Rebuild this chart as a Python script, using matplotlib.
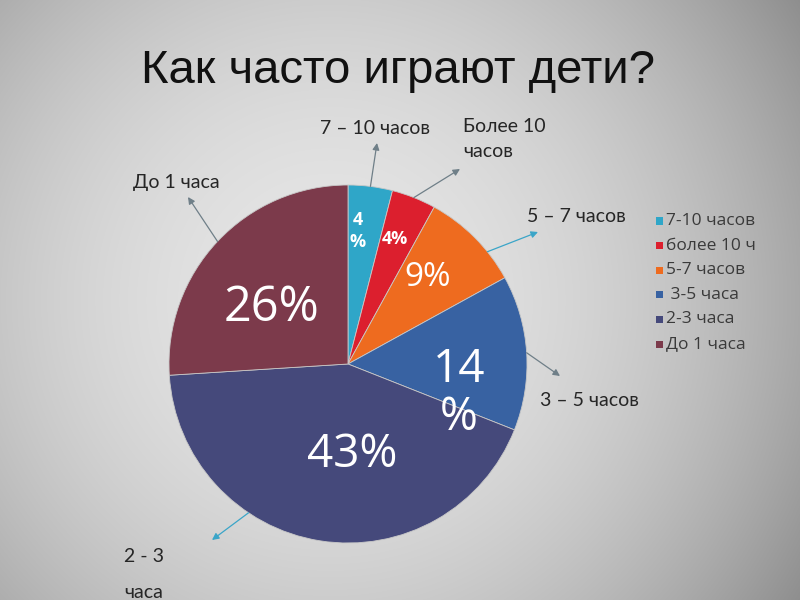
import numpy as np
import matplotlib
matplotlib.use("Agg")
import matplotlib.pyplot as plt
from matplotlib.patches import Rectangle

# ---- data ----
legend_labels = ["7-10 часов", "более 10 ч", "5-7 часов", " 3-5 часа", "2-3 часа", "До 1 часа"]
values = [4, 4, 9, 14, 43, 26]
pct_labels = ["4\n%", "4%", "9%", "14\n%", "43%", "26%"]
callout_labels = ["7 – 10 часов", "Более 10\nчасов", "5 – 7 часов", "3 – 5 часов", "2 - 3\nчаса", "До 1 часа"]
title = "Как часто играют дети?"

colors = ["#2fa6c8", "#dc1f2e", "#ee6b1f", "#3862a2", "#45497b", "#7c3a4b"]

W, H = 800, 600
fig = plt.figure(figsize=(8, 6), dpi=100)

# background radial gradient
bg = fig.add_axes([0, 0, 1, 1], zorder=0)
yy, xx = np.mgrid[0:H, 0:W]
r2 = (xx - 330.0) ** 2 + (yy - 300.0) ** 2
g = np.clip(0.90 - 1.1e-6 * r2, 0, 1)
bg.imshow(np.dstack([g, g, g]), extent=[0, W, H, 0], aspect="auto")
bg.set_xlim(0, W)
bg.set_ylim(H, 0)
bg.axis("off")

def fp(x, y):
    # figure pixel coords from top-left
    return (x / W, 1 - y / H)

# title
fig.text(*fp(398, 71), title, ha="center", va="center", fontsize=34,
         family=["Liberation Sans", "DejaVu Sans"], color="#111111")

# pie
cx, cy, R = 348, 364, 179
pax = fig.add_axes([(cx - R) / W, (H - cy - R) / H, 2 * R / W, 2 * R / H], zorder=2)
wedges, _ = pax.pie(values, colors=colors, startangle=90, counterclock=False, radius=1,
                    wedgeprops=dict(linewidth=0.6, edgecolor="#c8c8c8"))
pax.set_xlim(-1, 1)
pax.set_ylim(-1, 1)
pax.set_aspect("equal")
pax.axis("off")

# percent labels (positions in figure pixels)
pct_pos = [(358, 231), (395, 239), (428, 278), (459, 394), (352, 455), (272, 308)]
pct_size = [13, 13, 24, 33, 33, 35]
pct_bold = [True, True, False, False, False, False]
for lab, (x, y), s, b in zip(pct_labels, pct_pos, pct_size, pct_bold):
    fig.text(*fp(x, y), lab, ha="center", va="center", fontsize=s,
             fontweight="bold" if b else "normal", color="white",
             family=["Open Sans", "DejaVu Sans"], linespacing=1.25 if b else 1.05, zorder=5)

# callouts: arrows from pie edge to outer points, then text
arrow_frac = [0.5, 0.5, 0.31, 0.5, 0.34, 0.5]
arrow_end = [(377, 143), (460, 169), (538, 232), (560, 376), (212, 540), (188, 197)]
arrow_col = ["#6f7f88", "#6f7f88", "#3aa5c8", "#6f7f88", "#3aa5c8", "#6f7f88"]
for w, f, (ex, ey), c in zip(wedges, arrow_frac, arrow_end, arrow_col):
    t1, t2 = sorted([w.theta1, w.theta2])
    ang = np.deg2rad(t1 + (t2 - t1) * f)
    start = (np.cos(ang) * 1.0, np.sin(ang) * 1.0)
    pax.annotate("", xy=fp(ex, ey), xycoords="figure fraction", xytext=start,
                 textcoords="data",
                 arrowprops=dict(arrowstyle="-|>", color=c, lw=0.9,
                                 mutation_scale=10, shrinkA=0, shrinkB=0),
                 annotation_clip=False, zorder=3)

text_pos = [(375, 129, "center", "center", 1.3), (463, 118, "left", "top", 1.6),
            (527, 216, "left", "center", 1.3), (540, 401, "left", "center", 1.3),
            (124, 548, "left", "top", 2.35), (133, 183, "left", "center", 1.3)]
for lab, (x, y, ha, va, ls) in zip(callout_labels, text_pos):
    fig.text(*fp(x, y), lab, ha=ha, va=va, fontsize=14, color="#262626",
             family=["Lato", "DejaVu Sans"], linespacing=ls, zorder=5)

# legend
lx, ly0, dy = 657, 221, 24.6
for i, (lab, c) in enumerate(zip(legend_labels, colors)):
    y = ly0 + i * dy
    fig.patches.append(Rectangle(fp(lx - 1, y + 3.5), 7 / W, 7 / H, transform=fig.transFigure,
                                 facecolor=c, edgecolor="none", zorder=5))
    fig.text(*fp(lx + 9, y), lab, ha="left", va="center", fontsize=12.5, color="#3a3a3a",
             family=["Open Sans", "DejaVu Sans"], zorder=5)

fig.savefig("out.png", dpi=100)
